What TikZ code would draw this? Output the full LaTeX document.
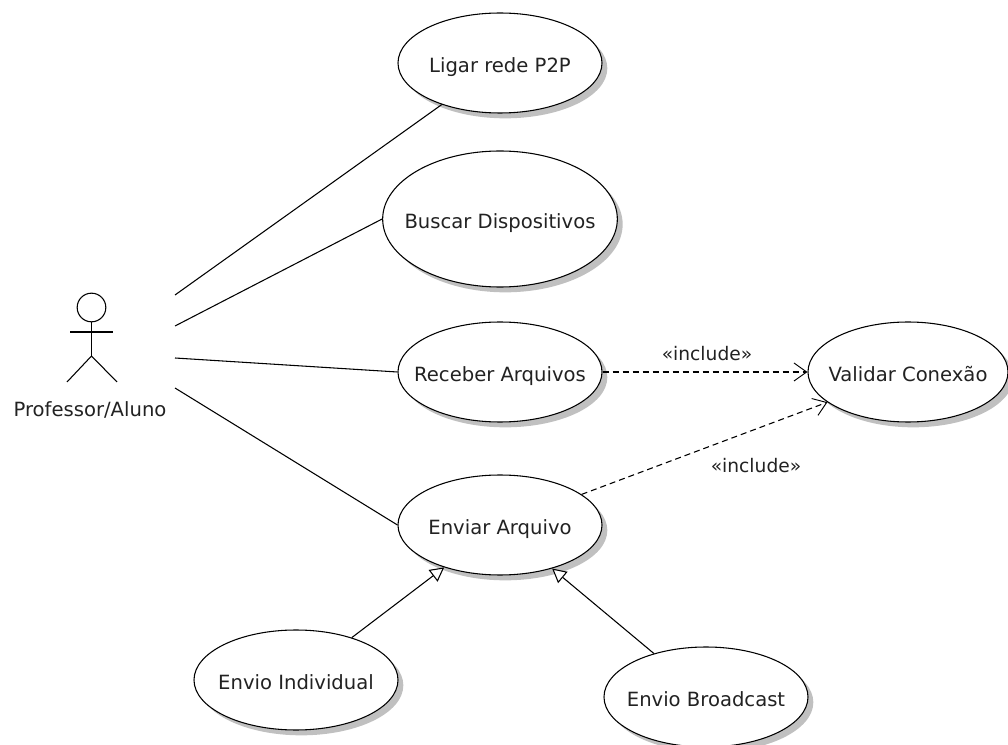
\documentclass[tikz,border=0pt]{standalone}
\usepackage{fontspec}
\setmainfont{DejaVu Sans}
\usetikzlibrary{shapes.geometric,arrows.meta,shadows}
\definecolor{shade}{HTML}{C0C0C0}
\definecolor{ink}{HTML}{222222}
\tikzset{
  usecase/.style={ellipse,draw=black,fill=white,line width=0.8pt,inner ysep=0pt,inner xsep=-40pt,text height=14pt,text depth=0pt,text=ink,font=\fontsize{14.7pt}{17pt}\selectfont,
    drop shadow={shadow xshift=4pt,shadow yshift=-4pt,fill=shade,opacity=1}},
  small/.style={usecase,minimum width=153pt,minimum height=75pt},
  label/.style={text=ink,inner sep=0pt,font=\fontsize{14.7pt}{17pt}\selectfont},
  tinylabel/.style={text=ink,inner sep=0pt,font=\fontsize{14pt}{16pt}\selectfont},
  assoc/.style={draw=black,line width=0.8pt},
  incl/.style={draw=black,line width=0.8pt,dash pattern=on 4.5pt off 3pt,-{Straight Barb[length=9.5pt,width=13.5pt,line width=0.7pt]}},
  gen/.style={draw=black,line width=0.8pt,-{Triangle[open,fill=white,length=10.5pt,width=11pt,line width=0.8pt]}},
  stick/.style={draw=black,line width=0.8pt}
}
\begin{document}
\begin{tikzpicture}[x=0.75pt,y=-0.75pt]
\useasboundingbox (0,0) rectangle (1008,745);
% use cases
\node[small] (ligar) at (500,63) {Ligar rede P2P};
\node[usecase,minimum width=176pt,minimum height=102pt] (buscar) at (500,219) {Buscar Dispositivos};
\node[small] (receber) at (500,372) {Receber Arquivos};
\node[small] (enviar) at (500,525) {Enviar Arquivo};
\node[small,minimum width=150pt] (validar) at (908,372) {Validar Conexão};
\node[small] (individual) at (296,680) {Envio Individual};
\node[small] (broadcast) at (706,697) {Envio Broadcast};
% actor
\node[circle,draw=black,line width=0.8pt,minimum size=21.5pt,inner sep=0pt] (head) at (91.5,307.5) {};
\coordinate (hip) at (91.5,356);
\coordinate (armL) at (70,332);
\coordinate (armR) at (113,332);
\coordinate (footL) at (67,382);
\coordinate (footR) at (117,382);
\draw[stick] (head.south) -- (hip);
\draw[stick] (armL) -- (armR);
\draw[stick] (footL) -- (hip) -- (footR);
\node[label,anchor=base] (actor) at (90,417) {Professor/Aluno};
% actor connector ends
\coordinate (a1) at (175,295);
\coordinate (a2) at (175,326);
\coordinate (a3) at (175,358);
\coordinate (a4) at (175,388);
\draw[assoc] (a1) -- (ligar);
\draw[assoc] (a2) -- (buscar.west);
\draw[assoc] (a3) -- (receber.west);
\draw[assoc] (a4) -- (enviar.west);
% includes
\draw[incl] (receber.east) -- (validar.west);
\draw[incl] (enviar) -- (validar);
\node[tinylabel,anchor=base] (inc1) at (707,361) {«include»};
\node[tinylabel,anchor=base] (inc2) at (756,473) {«include»};
% generalisations
\draw[gen] (individual) -- (enviar);
\draw[gen] (broadcast) -- (enviar);
\end{tikzpicture}
\end{document}
